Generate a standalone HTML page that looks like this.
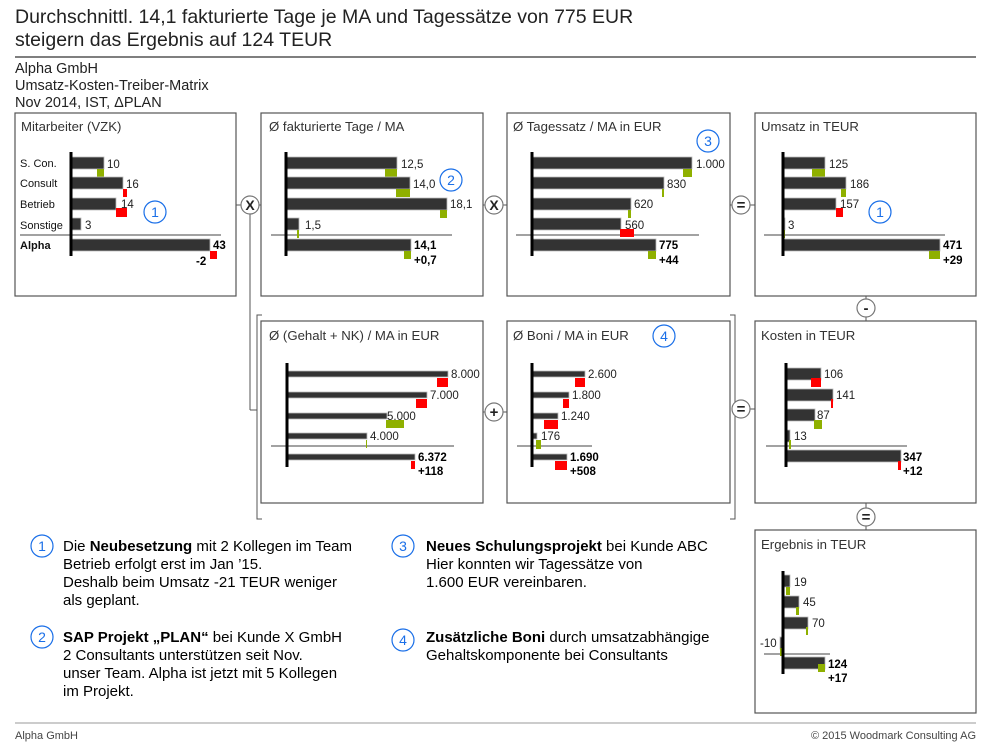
<!DOCTYPE html>
<html><head><meta charset="utf-8"><style>
body{margin:0;background:#fff;}
svg{display:block;font-family:"Liberation Sans",sans-serif;}
.t{font-size:13.2px;fill:#333}
.v{font-size:11.5px;fill:#222}
.b{font-size:11.5px;fill:#000;font-weight:bold}
.c{font-size:11px;fill:#111}
.n{font-size:15px;fill:#000}
.box{fill:#fff;stroke:#555;stroke-width:1.2}
.bar{fill:#333;stroke:#bbb;stroke-width:0.8}
.g{fill:#8fb000}.r{fill:#f00}
.ax{stroke:#000;stroke-width:3}
.sep{stroke:#444;stroke-width:1}
.op{fill:#fff;stroke:#777;stroke-width:1.2}
.ln{stroke:#555;stroke-width:1;fill:none}
.bc{fill:none;stroke:#1a6fe8;stroke-width:1.2}
.bn{font-size:14px;fill:#1a6fe8;text-anchor:middle}
</style></head><body>
<svg width="988" height="744" viewBox="0 0 988 744" xml:space="preserve">
<text x="15" y="23" style="font-size:19.5px;fill:#222">Durchschnittl. 14,1 fakturierte Tage je MA und Tagessätze von 775 EUR</text>
<text x="15" y="46" style="font-size:19.5px;fill:#222">steigern  das Ergebnis auf 124 TEUR</text>
<line x1="15" y1="57" x2="976" y2="57" stroke="#333" stroke-width="1.2"/>
<text x="15" y="73" style="font-size:14.5px;fill:#222">Alpha GmbH</text>
<text x="15" y="90" style="font-size:14.5px;fill:#222">Umsatz-Kosten-Treiber-Matrix</text>
<text x="15" y="107" style="font-size:14.5px;fill:#222">Nov 2014, IST, ΔPLAN</text>

<line class="ln" x1="236" y1="205" x2="261" y2="205"/>
<line class="ln" x1="483" y1="205" x2="507" y2="205"/>
<line class="ln" x1="730" y1="205" x2="755" y2="205"/>
<line class="ln" x1="250" y1="205" x2="250" y2="410"/>
<line class="ln" x1="250" y1="410" x2="257" y2="410"/>
<path class="ln" d="M262 315 H257 V519 H262"/>
<path class="ln" d="M730 315 H735 V519 H730"/>
<line class="ln" x1="483" y1="412" x2="507" y2="412"/>
<line class="ln" x1="735" y1="409" x2="755" y2="409"/>
<line class="ln" x1="866" y1="296" x2="866" y2="321"/>
<line class="ln" x1="866" y1="503" x2="866" y2="530"/>

<rect class="box" x="15" y="113" width="221" height="183"/>
<rect class="box" x="261" y="113" width="222" height="183"/>
<rect class="box" x="507" y="113" width="223" height="183"/>
<rect class="box" x="755" y="113" width="221" height="183"/>
<rect class="box" x="261" y="321" width="222" height="182"/>
<rect class="box" x="507" y="321" width="223" height="182"/>
<rect class="box" x="755" y="321" width="221" height="182"/>
<rect class="box" x="755" y="530" width="221" height="183"/>

<circle class="op" cx="250" cy="205" r="9"/><text x="250" y="210" text-anchor="middle" style="font-size:14px;font-weight:bold;fill:#222">X</text>
<circle class="op" cx="494" cy="205" r="9"/><text x="494" y="210" text-anchor="middle" style="font-size:14px;font-weight:bold;fill:#222">X</text>
<circle class="op" cx="741" cy="205" r="9"/><text x="741" y="210" text-anchor="middle" style="font-size:15px;font-weight:bold;fill:#222">=</text>
<circle class="op" cx="866" cy="308" r="9"/><text x="866" y="313" text-anchor="middle" style="font-size:15px;font-weight:bold;fill:#222">-</text>
<circle class="op" cx="494" cy="412" r="9"/><text x="494" y="417" text-anchor="middle" style="font-size:15px;font-weight:bold;fill:#222">+</text>
<circle class="op" cx="741" cy="409" r="9"/><text x="741" y="414" text-anchor="middle" style="font-size:15px;font-weight:bold;fill:#222">=</text>
<circle class="op" cx="866" cy="517" r="9"/><text x="866" y="522" text-anchor="middle" style="font-size:15px;font-weight:bold;fill:#222">=</text>

<!-- P1 -->
<text class="t" x="21" y="131">Mitarbeiter (VZK)</text>
<text class="c" x="20" y="167">S. Con.</text><text class="c" x="20" y="187">Consult</text><text class="c" x="20" y="208">Betrieb</text><text class="c" x="20" y="229">Sonstige</text><text class="c" x="20" y="249" font-weight="bold">Alpha</text>
<line class="sep" x1="20" y1="235" x2="221" y2="235"/>
<rect class="bar" x="71" y="157" width="33" height="12"/><rect class="g" x="97" y="169" width="7" height="8"/><text class="v" x="107" y="168">10</text>
<rect class="bar" x="71" y="177" width="52" height="12"/><rect class="r" x="123" y="189" width="4" height="8"/><text class="v" x="126" y="188">16</text>
<rect class="bar" x="71" y="198" width="45" height="12"/><rect class="r" x="116" y="208" width="11" height="9"/><text class="v" x="121" y="208">14</text>
<rect class="bar" x="71" y="218" width="10" height="12"/><text class="v" x="85" y="229">3</text>
<rect class="bar" x="71" y="239" width="139" height="12"/><rect class="r" x="210" y="251" width="7" height="8"/><text class="b" x="213" y="249">43</text><text class="b" x="196" y="265">-2</text>
<line class="ax" x1="71" y1="152" x2="71" y2="256"/>
<circle class="bc" cx="155" cy="212" r="11"/><text class="bn" x="155" y="217">1</text>

<!-- P2 -->
<text class="t" x="269" y="131">Ø fakturierte Tage / MA</text>
<line class="sep" x1="271" y1="235" x2="452" y2="235"/>
<rect class="bar" x="286" y="157" width="111" height="12"/><rect class="g" x="385" y="169" width="12" height="8"/><text class="v" x="401" y="168">12,5</text>
<rect class="bar" x="286" y="177" width="124" height="12"/><rect class="g" x="396" y="189" width="14" height="8"/><text class="v" x="413" y="188">14,0</text>
<rect class="bar" x="286" y="198" width="161" height="12"/><rect class="g" x="440" y="210" width="7" height="8"/><text class="v" x="450" y="208">18,1</text>
<rect class="bar" x="286" y="218" width="13" height="12"/><rect class="g" x="297" y="230" width="2" height="8"/><text class="v" x="305" y="229">1,5</text>
<rect class="bar" x="286" y="239" width="125" height="12"/><rect class="g" x="404" y="251" width="7" height="8"/><text class="b" x="414" y="249">14,1</text><text class="b" x="414" y="264">+0,7</text>
<line class="ax" x1="286" y1="152" x2="286" y2="256"/>
<circle class="bc" cx="451" cy="180" r="11"/><text class="bn" x="451" y="185">2</text>

<!-- P3 -->
<text class="t" x="513" y="131">Ø Tagessatz / MA in EUR</text>
<line class="sep" x1="516" y1="235" x2="699" y2="235"/>
<rect class="bar" x="532" y="157" width="160" height="12"/><rect class="g" x="683" y="169" width="9" height="8"/><text class="v" x="696" y="168">1.000</text>
<rect class="bar" x="532" y="177" width="132" height="12"/><rect class="g" x="662" y="189" width="2" height="8"/><text class="v" x="667" y="188">830</text>
<rect class="bar" x="532" y="198" width="99" height="12"/><rect class="g" x="628" y="210" width="3" height="8"/><text class="v" x="634" y="208">620</text>
<rect class="bar" x="532" y="218" width="89" height="12"/><rect class="r" x="620" y="229" width="14" height="8"/><text class="v" x="625" y="229">560</text>
<rect class="bar" x="532" y="239" width="124" height="12"/><rect class="g" x="648" y="251" width="8" height="8"/><text class="b" x="659" y="249">775</text><text class="b" x="659" y="264">+44</text>
<line class="ax" x1="532" y1="152" x2="532" y2="256"/>
<circle class="bc" cx="708" cy="141" r="11"/><text class="bn" x="708" y="146">3</text>

<!-- P4 -->
<text class="t" x="761" y="131">Umsatz in TEUR</text>
<line class="sep" x1="764" y1="235" x2="945" y2="235"/>
<rect class="bar" x="783" y="157" width="42" height="12"/><rect class="g" x="812" y="169" width="13" height="8"/><text class="v" x="829" y="168">125</text>
<rect class="bar" x="783" y="177" width="63" height="12"/><rect class="g" x="841" y="189" width="5" height="8"/><text class="v" x="850" y="188">186</text>
<rect class="bar" x="783" y="198" width="53" height="12"/><rect class="r" x="836" y="208" width="7" height="9"/><text class="v" x="840" y="208">157</text>
<rect class="bar" x="783" y="218" width="2" height="12"/><rect class="g" x="783" y="230" width="2" height="8"/><text class="v" x="788" y="229">3</text>
<rect class="bar" x="783" y="239" width="157" height="12"/><rect class="g" x="929" y="251" width="11" height="8"/><text class="b" x="943" y="249">471</text><text class="b" x="943" y="264">+29</text>
<line class="ax" x1="783" y1="152" x2="783" y2="256"/>
<circle class="bc" cx="880" cy="212" r="11"/><text class="bn" x="880" y="217">1</text>

<!-- P5 -->
<text class="t" x="269" y="340">Ø (Gehalt + NK) / MA in EUR</text>
<line class="sep" x1="271" y1="446" x2="454" y2="446"/>
<rect class="bar" x="287" y="371" width="161" height="6"/><rect class="r" x="437" y="378" width="11" height="9"/><text class="v" x="451" y="378">8.000</text>
<rect class="bar" x="287" y="392" width="140" height="6"/><rect class="r" x="416" y="399" width="11" height="9"/><text class="v" x="430" y="399">7.000</text>
<rect class="bar" x="287" y="413" width="100" height="6"/><rect class="g" x="386" y="420" width="18" height="8"/><text class="v" x="387" y="420">5.000</text>
<rect class="bar" x="287" y="433" width="80" height="6"/><rect class="g" x="366" y="440" width="1" height="8"/><text class="v" x="370" y="440">4.000</text>
<rect class="bar" x="287" y="454" width="128" height="6"/><rect class="r" x="411" y="461" width="4" height="8"/><text class="b" x="418" y="461">6.372</text><text class="b" x="418" y="475">+118</text>
<line class="ax" x1="287" y1="363" x2="287" y2="467"/>

<!-- P6 -->
<text class="t" x="513" y="340">Ø Boni / MA in EUR</text>
<line class="sep" x1="517" y1="446" x2="592" y2="446"/>
<rect class="bar" x="532" y="371" width="53" height="6"/><rect class="r" x="575" y="378" width="10" height="9"/><text class="v" x="588" y="378">2.600</text>
<rect class="bar" x="532" y="392" width="37" height="6"/><rect class="r" x="563" y="399" width="6" height="9"/><text class="v" x="572" y="399">1.800</text>
<rect class="bar" x="532" y="413" width="26" height="6"/><rect class="r" x="544" y="420" width="14" height="9"/><text class="v" x="561" y="420">1.240</text>
<rect class="bar" x="532" y="433" width="5" height="6"/><rect class="g" x="536" y="440" width="5" height="9"/><text class="v" x="541" y="440">176</text>
<rect class="bar" x="532" y="454" width="35" height="6"/><rect class="r" x="555" y="461" width="12" height="9"/><text class="b" x="570" y="461">1.690</text><text class="b" x="570" y="475">+508</text>
<line class="ax" x1="532" y1="363" x2="532" y2="467"/>
<circle class="bc" cx="664" cy="336" r="11"/><text class="bn" x="664" y="341">4</text>

<!-- P7 -->
<text class="t" x="761" y="340">Kosten in TEUR</text>
<line class="sep" x1="766" y1="446" x2="907" y2="446"/>
<rect class="bar" x="786" y="368" width="35" height="12"/><rect class="r" x="811" y="378" width="10" height="9"/><text class="v" x="824" y="378">106</text>
<rect class="bar" x="786" y="389" width="47" height="12"/><rect class="r" x="831" y="399" width="2" height="9"/><text class="v" x="836" y="399">141</text>
<rect class="bar" x="786" y="409" width="29" height="12"/><rect class="g" x="814" y="420" width="8" height="9"/><text class="v" x="817" y="419">87</text>
<rect class="bar" x="786" y="430" width="4" height="12"/><rect class="g" x="789" y="440" width="2" height="9"/><text class="v" x="794" y="440">13</text>
<rect class="bar" x="786" y="450" width="115" height="12"/><rect class="r" x="898" y="461" width="3" height="9"/><text class="b" x="903" y="461">347</text><text class="b" x="903" y="475">+12</text>
<line class="ax" x1="786" y1="363" x2="786" y2="467"/>

<!-- P8 -->
<text class="t" x="761" y="549">Ergebnis in TEUR</text>
<line class="sep" x1="764" y1="654" x2="830" y2="654"/>
<rect class="bar" x="783" y="575" width="7" height="12"/><rect class="g" x="786" y="587" width="4" height="8"/><text class="v" x="794" y="586">19</text>
<rect class="bar" x="783" y="596" width="16" height="12"/><rect class="g" x="796" y="607" width="3" height="8"/><text class="v" x="803" y="606">45</text>
<rect class="bar" x="783" y="617" width="25" height="12"/><rect class="g" x="806" y="627" width="2" height="8"/><text class="v" x="812" y="627">70</text>
<rect class="bar" x="780" y="637" width="3" height="12"/><rect class="g" x="780" y="648" width="2" height="8"/><text class="v" x="760" y="647">-10</text>
<rect class="bar" x="783" y="657" width="42" height="12"/><rect class="g" x="818" y="664" width="7" height="8"/><text class="b" x="828" y="668">124</text><text class="b" x="828" y="682">+17</text>
<line class="ax" x1="783" y1="571" x2="783" y2="674"/>

<!-- notes -->
<circle class="bc" cx="42" cy="546" r="11"/><text class="bn" x="42" y="551">1</text>
<text class="n" x="63" y="551">Die <tspan font-weight="bold">Neubesetzung</tspan> mit 2 Kollegen im Team</text>
<text class="n" x="63" y="569">Betrieb erfolgt erst im Jan ’15.</text>
<text class="n" x="63" y="587">Deshalb beim Umsatz -21 TEUR weniger</text>
<text class="n" x="63" y="605">als geplant.</text>
<circle class="bc" cx="42" cy="637" r="11"/><text class="bn" x="42" y="642">2</text>
<text class="n" x="63" y="642"><tspan font-weight="bold">SAP Projekt „PLAN“</tspan> bei Kunde X GmbH</text>
<text class="n" x="63" y="660">2 Consultants unterstützen seit Nov.</text>
<text class="n" x="63" y="678">unser Team. Alpha ist jetzt mit 5 Kollegen</text>
<text class="n" x="63" y="696">im Projekt.</text>
<circle class="bc" cx="403" cy="546" r="11"/><text class="bn" x="403" y="551">3</text>
<text class="n" x="426" y="551"><tspan font-weight="bold">Neues Schulungsprojekt</tspan> bei Kunde ABC</text>
<text class="n" x="426" y="569">Hier konnten wir Tagessätze von</text>
<text class="n" x="426" y="587">1.600 EUR vereinbaren.</text>
<circle class="bc" cx="403" cy="640" r="11"/><text class="bn" x="403" y="645">4</text>
<text class="n" x="426" y="642"><tspan font-weight="bold">Zusätzliche Boni</tspan> durch umsatzabhängige</text>
<text class="n" x="426" y="660">Gehaltskomponente bei Consultants</text>

<line x1="15" y1="723" x2="976" y2="723" stroke="#999" stroke-width="1"/>
<text x="15" y="739" style="font-size:11px;fill:#444">Alpha GmbH</text>
<text x="976" y="739" text-anchor="end" style="font-size:11px;fill:#444">© 2015 Woodmark Consulting AG</text>
</svg>
</body></html>
